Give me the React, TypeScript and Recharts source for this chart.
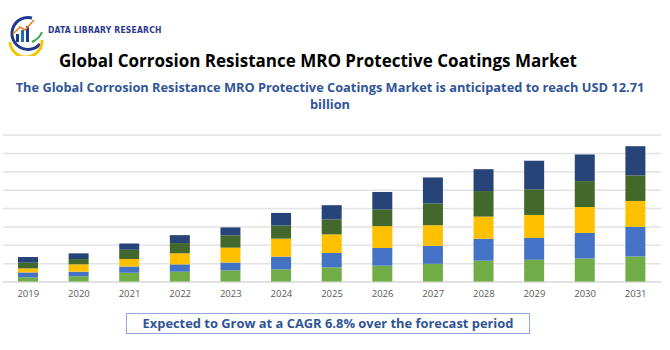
import { BarChart, Bar, XAxis, YAxis, CartesianGrid } from "recharts";

const years = ["2019", "2020", "2021", "2022", "2023", "2024", "2025", "2026", "2027", "2028", "2029", "2030", "2031"];
const segA = [0.25, 0.31, 0.51, 0.56, 0.63, 0.69, 0.8, 0.89, 0.99, 1.16, 1.21, 1.28, 1.39];
const segB = [0.27, 0.25, 0.34, 0.4, 0.43, 0.69, 0.78, 0.96, 0.98, 1.19, 1.19, 1.39, 1.61];
const segC = [0.22, 0.4, 0.4, 0.6, 0.81, 0.98, 1.01, 1.19, 1.12, 1.21, 1.25, 1.41, 1.41];
const segD = [0.31, 0.29, 0.51, 0.56, 0.67, 0.71, 0.81, 0.9, 1.19, 1.39, 1.39, 1.41, 1.39];
const segE = [0.31, 0.31, 0.34, 0.43, 0.43, 0.69, 0.78, 0.96, 1.41, 1.19, 1.56, 1.45, 1.59];
const yTicks = [0, 1, 2, 3, 4, 5, 6, 7, 8];

const data = years.map((year, i) => ({
	year,
	a: segA[i],
	b: segB[i],
	c: segC[i],
	d: segD[i],
	e: segE[i],
}));

const font = "'Open Sans', sans-serif";

function Logo() {
	return (
		<svg width={46} height={46} style={{ position: "absolute", left: 2, top: 10 }}>
			<path d="M 30 8 A 16 16 0 1 0 38 34" fill="none" stroke="#1f3a8a" strokeWidth={3} />
			<path d="M 8 32 A 16 16 0 0 0 40 30" fill="none" stroke="#f5c400" strokeWidth={3} />
			<rect x={14} y={24} width={3} height={8} fill="#1f3a8a" />
			<rect x={19} y={20} width={3} height={12} fill="#1f6fb8" />
			<rect x={24} y={16} width={3} height={16} fill="#1f3a8a" />
			<path d="M 11 24 L 18 17 L 23 20 L 32 10" fill="none" stroke="#f07c1f" strokeWidth={1.5} />
			<path d="M 30 32 Q 38 28 40 22" fill="none" stroke="#3aa845" strokeWidth={2} />
		</svg>
	);
}

export default function App() {
	return (
		<div
			style={{
				position: "absolute",
				left: 0,
				top: 0,
				width: 670,
				height: 350,
				background: "#fff",
				fontFamily: font,
				overflow: "hidden",
			}}
		>
			<Logo />
			<div
				style={{
					position: "absolute",
					left: 48,
					top: 25,
					fontSize: 8.5,
					fontWeight: 700,
					color: "#2b3990",
					fontFamily: "'Liberation Sans Narrow', 'DejaVu Sans Condensed', sans-serif",
					letterSpacing: 0.2,
				}}
			>
				DATA LIBRARY RESEARCH
			</div>
			<div
				style={{
					position: "absolute",
					left: 0,
					top: 49,
					width: 636,
					textAlign: "center",
					fontSize: 17,
					fontWeight: 700,
					color: "#000",
				}}
			>
				Global Corrosion Resistance MRO Protective Coatings Market
			</div>
			<div
				style={{
					position: "absolute",
					left: 0,
					top: 79,
					width: 660,
					textAlign: "center",
					fontSize: 12.8,
					fontWeight: 700,
					lineHeight: "17px",
					color: "#2f5597",
					whiteSpace: "nowrap",
				}}
			>
				The Global Corrosion Resistance MRO Protective Coatings Market is anticipated to reach USD 12.71
				<br />
				billion
			</div>
			<div style={{ position: "absolute", left: 0, top: 0 }}>
				<BarChart
					width={670}
					height={310}
					data={data}
					margin={{ top: 135, right: 9, left: 3, bottom: 0 }}
					barSize={20}
				>
					<CartesianGrid vertical={false} stroke="#e3e3e3" strokeWidth={1.5} horizontalValues={yTicks} />
					<XAxis
						dataKey="year"
						height={28}
						tickLine={false}
						axisLine={{ stroke: "#d9d9d9" }}
						tick={{ fill: "#595959", fontSize: 9.5, fontFamily: font }}
					/>
					<YAxis hide domain={[0, 8]} ticks={yTicks} interval={0} />
					<Bar dataKey="a" stackId="s" fill="#70ad47" isAnimationActive={false} />
					<Bar dataKey="b" stackId="s" fill="#4472c4" isAnimationActive={false} />
					<Bar dataKey="c" stackId="s" fill="#ffc000" isAnimationActive={false} />
					<Bar dataKey="d" stackId="s" fill="#43682b" isAnimationActive={false} />
					<Bar dataKey="e" stackId="s" fill="#264478" isAnimationActive={false} />
				</BarChart>
			</div>
			<div
				style={{
					position: "absolute",
					left: 126,
					top: 313,
					width: 402,
					height: 19,
					border: "1px solid #8faadc",
					textAlign: "center",
					fontSize: 12.9,
					fontWeight: 700,
					lineHeight: "19px",
					color: "#2f5597",
				}}
			>
				Expected to Grow at a CAGR 6.8% over the forecast period
			</div>
		</div>
	);
}
